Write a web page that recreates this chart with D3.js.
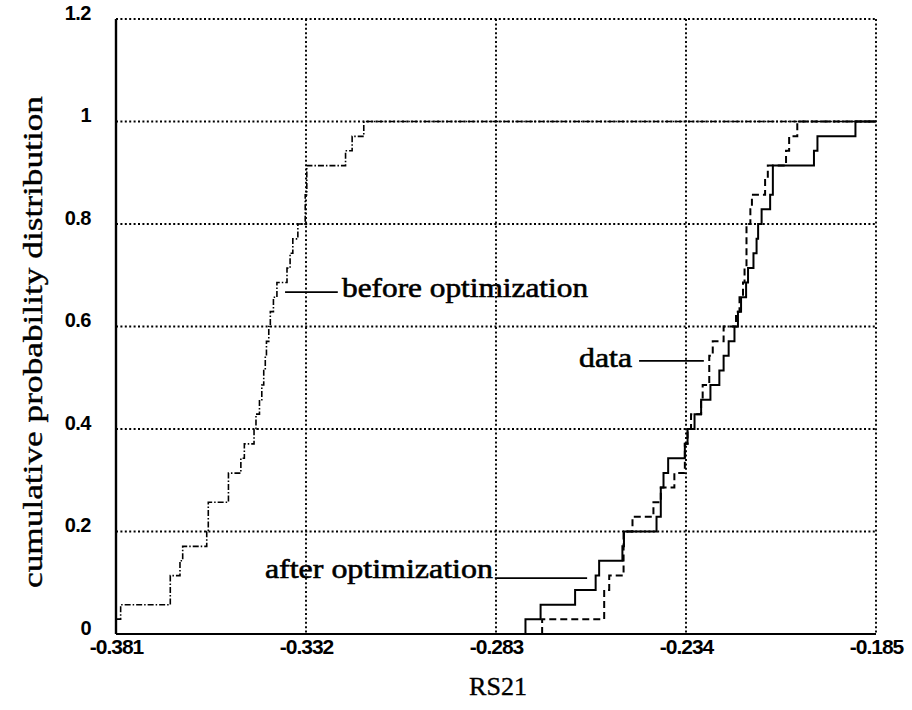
<!DOCTYPE html>
<html>
<head>
<meta charset="utf-8">
<script src="https://cdn.jsdelivr.net/npm/d3@7"></script>
<style>
body { margin: 0; background: #fff; }
</style>
</head>
<body>
<div id="chart"></div>
<script>
// tick values
var xTicks = [-0.381, -0.332, -0.283, -0.234, -0.185];
var yTicks = [0, 0.2, 0.4, 0.6, 0.8, 1, 1.2];

var beforeX = [-0.381, -0.3798, -0.3670, -0.3645, -0.3638, -0.3576, -0.3572, -0.3520, -0.3488, -0.3479,
	-0.3454, -0.3449, -0.3440, -0.3434, -0.3429, -0.3425, -0.3422, -0.3416, -0.3412, -0.3404,
	-0.3395, -0.3369, -0.3361, -0.3354, -0.3341, -0.3322, -0.3318, -0.3218, -0.3201, -0.3171, -0.185];
var beforeY = [0.029, 0.057, 0.114, 0.143, 0.171, 0.2, 0.257, 0.314, 0.343, 0.371,
	0.4, 0.429, 0.457, 0.486, 0.514, 0.543, 0.571, 0.6, 0.629, 0.657,
	0.686, 0.714, 0.743, 0.771, 0.8, 0.857, 0.914, 0.943, 0.971, 1.0, 1.0];

var afterX = [-0.2754, -0.2754, -0.2715, -0.2626, -0.2573, -0.2564, -0.2504, -0.2500, -0.2416, -0.2405, -0.2398,
	-0.2386, -0.2343, -0.2336, -0.2318, -0.2301, -0.2277, -0.2254, -0.2243, -0.2230, -0.2215,
	-0.2206, -0.2198, -0.2185, -0.2180, -0.2166, -0.2158, -0.2154, -0.2145, -0.2123, -0.2116,
	-0.2010, -0.2001, -0.1903, -0.185];
var afterY = [0, 0.029, 0.057, 0.086, 0.114, 0.143, 0.171, 0.2, 0.229, 0.286, 0.314,
	0.343, 0.371, 0.4, 0.429, 0.457, 0.486, 0.514, 0.543, 0.571, 0.6,
	0.629, 0.657, 0.686, 0.714, 0.743, 0.771, 0.8, 0.829, 0.857, 0.914,
	0.943, 0.971, 1.0, 1.0];

var dataX = [-0.2711, -0.2711, -0.2551, -0.2538, -0.2501, -0.2478, -0.2424, -0.2405, -0.2370, -0.2343, -0.2336,
	-0.2327, -0.2301, -0.2297, -0.2280, -0.2271, -0.2243, -0.2211, -0.2202, -0.2193, -0.2189,
	-0.2184, -0.2174, -0.2170, -0.2136, -0.2129, -0.2082, -0.2074, -0.2053, -0.185];
var dataY = [0, 0.029, 0.086, 0.114, 0.2, 0.229, 0.257, 0.286, 0.314, 0.371, 0.4,
	0.429, 0.457, 0.486, 0.543, 0.571, 0.6, 0.629, 0.657, 0.686, 0.714,
	0.8, 0.829, 0.857, 0.886, 0.914, 0.943, 0.971, 1.0, 1.0];

var width = 912;
var height = 710;
var plotL = 116, plotR = 876, plotT = 19, plotB = 634;

var svg = d3.select("#chart")
	.append("svg")
	.attr("width", width)
	.attr("height", height);

var x = d3.scaleLinear()
	.domain([-0.381, -0.185])
	.range([plotL, plotR]);

var y = d3.scaleLinear()
	.domain([0, 1.2])
	.range([plotB, plotT]);

// dotted grid, also used for the top and right border
svg.selectAll(".hgrid")
	.data(yTicks.slice(1))
	.enter()
	.append("line")
	.attr("x1", plotL)
	.attr("x2", plotR)
	.attr("y1", d => y(d))
	.attr("y2", d => y(d))
	.attr("stroke", "#000")
	.attr("stroke-width", 1.9)
	.attr("stroke-dasharray", "2,2.4");

svg.selectAll(".vgrid")
	.data(xTicks.slice(1))
	.enter()
	.append("line")
	.attr("x1", d => x(d))
	.attr("x2", d => x(d))
	.attr("y1", plotT)
	.attr("y2", plotB)
	.attr("stroke", "#000")
	.attr("stroke-width", 1.9)
	.attr("stroke-dasharray", "2,2.4");

// solid left and bottom axes
svg.append("line")
	.attr("x1", plotL).attr("x2", plotL)
	.attr("y1", plotT).attr("y2", plotB)
	.attr("stroke", "#000")
	.attr("stroke-width", 2.4);

svg.append("line")
	.attr("x1", plotL).attr("x2", plotR)
	.attr("y1", plotB).attr("y2", plotB)
	.attr("stroke", "#000")
	.attr("stroke-width", 2.2);

var xAxis = svg.append("g")
	.attr("transform", "translate(0," + plotB + ")")
	.call(d3.axisBottom(x).tickValues(xTicks).tickSize(0).tickPadding(5)
		.tickFormat(d => d.toFixed(3)));
xAxis.select(".domain").remove();
xAxis.selectAll("text")
	.attr("font-family", "Liberation Sans, Arial, sans-serif")
	.attr("font-weight", "bold")
	.attr("font-size", "21px")
	.attr("letter-spacing", "-1px")
	.attr("fill", "#000");

var yAxis = svg.append("g")
	.attr("transform", "translate(" + plotL + ",0)")
	.call(d3.axisLeft(y).tickValues(yTicks).tickSize(0).tickPadding(25)
		.tickFormat(d => String(d)));
yAxis.select(".domain").remove();
yAxis.selectAll("text")
	.attr("font-family", "Liberation Sans, Arial, sans-serif")
	.attr("font-weight", "bold")
	.attr("font-size", "20px")
	.attr("letter-spacing", "-0.5px")
	.attr("dy", "0.02em")
	.attr("fill", "#000");

var line = d3.line()
	.x(d => x(d[0]))
	.y(d => y(d[1]))
	.curve(d3.curveStepAfter);

svg.append("path")
	.datum(d3.zip(beforeX, beforeY))
	.attr("fill", "none")
	.attr("stroke", "#000")
	.attr("stroke-width", 1.6)
	.attr("stroke-dasharray", "6,2,1.5,2")
	.attr("d", line);

svg.append("path")
	.datum(d3.zip(dataX, dataY))
	.attr("fill", "none")
	.attr("stroke", "#000")
	.attr("stroke-width", 2)
	.attr("stroke-dasharray", "7,4")
	.attr("d", line);

svg.append("path")
	.datum(d3.zip(afterX, afterY))
	.attr("fill", "none")
	.attr("stroke", "#000")
	.attr("stroke-width", 2)
	.attr("d", line);

// labels with leader lines
var serif = "Liberation Serif, Times New Roman, serif";

svg.append("line")
	.attr("x1", x(-0.3374)).attr("x2", x(-0.3238))
	.attr("y1", y(0.667)).attr("y2", y(0.667))
	.attr("stroke", "#000").attr("stroke-width", 1.8);
svg.append("text")
	.attr("x", x(-0.3227))
	.attr("y", y(0.657))
	.attr("font-family", serif)
	.attr("font-size", "28px")
	.attr("stroke", "#000")
	.attr("stroke-width", 0.6)
	.attr("textLength", 246)
	.attr("lengthAdjust", "spacingAndGlyphs")
	.text("before optimization");

svg.append("line")
	.attr("x1", x(-0.2461)).attr("x2", x(-0.2294))
	.attr("y1", y(0.533)).attr("y2", y(0.533))
	.attr("stroke", "#000").attr("stroke-width", 1.8);
svg.append("text")
	.attr("x", x(-0.2479))
	.attr("y", y(0.521))
	.attr("text-anchor", "end")
	.attr("font-family", serif)
	.attr("font-size", "28px")
	.attr("stroke", "#000")
	.attr("stroke-width", 0.6)
	.attr("textLength", 53)
	.attr("lengthAdjust", "spacingAndGlyphs")
	.text("data");

svg.append("line")
	.attr("x1", x(-0.2833)).attr("x2", x(-0.2595))
	.attr("y1", y(0.109)).attr("y2", y(0.109))
	.attr("stroke", "#000").attr("stroke-width", 1.8);
svg.append("text")
	.attr("x", x(-0.2838) - 228)
	.attr("y", y(0.109))
	.attr("font-family", serif)
	.attr("font-size", "28px")
	.attr("stroke", "#000")
	.attr("stroke-width", 0.6)
	.attr("textLength", 228)
	.attr("lengthAdjust", "spacingAndGlyphs")
	.text("after optimization");

// axis titles
svg.append("text")
	.attr("x", (plotL + plotR) / 2 + 2)
	.attr("y", 695)
	.attr("text-anchor", "middle")
	.attr("font-family", serif)
	.attr("font-size", "26px")
	.attr("stroke", "#000")
	.attr("stroke-width", 0.4)
	.text("RS21");

svg.append("text")
	.attr("transform", "translate(42," + 342 + ") rotate(-90)")
	.attr("text-anchor", "middle")
	.attr("font-family", serif)
	.attr("font-size", "27px")
	.attr("stroke", "#000")
	.attr("stroke-width", 0.4)
	.attr("textLength", 492)
	.attr("lengthAdjust", "spacingAndGlyphs")
	.text("cumulative probability distribution");
</script>
</body>
</html>
